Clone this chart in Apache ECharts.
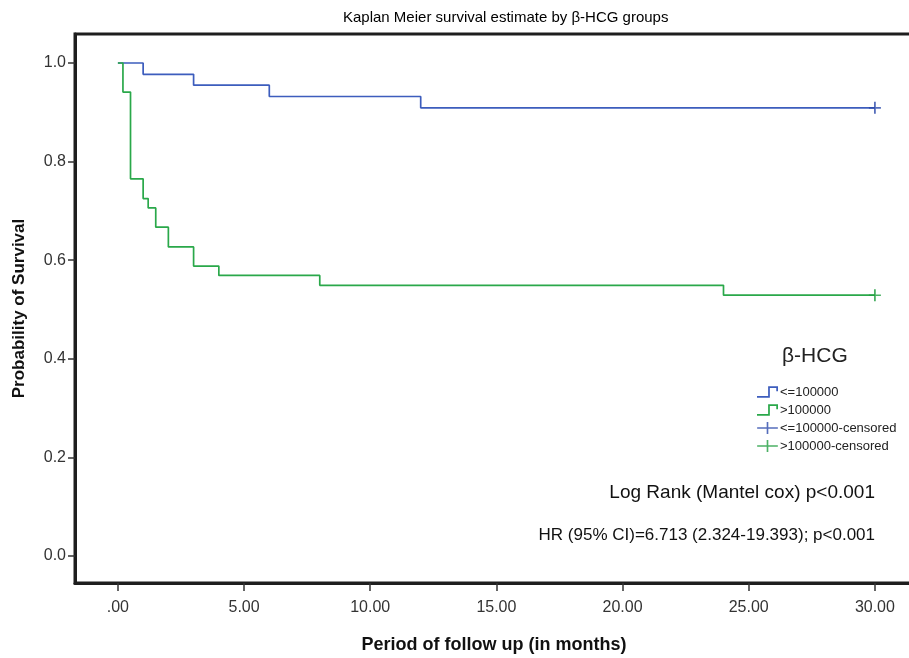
<!DOCTYPE html>
<html>
<head>
<meta charset="utf-8">
<script src="https://cdn.jsdelivr.net/npm/echarts@6/dist/echarts.min.js"></script>
<style>html,body{margin:0;padding:0;background:#fff}#c{width:909px;height:658px}</style>
</head>
<body>
<div id="c"></div>
<script>
// Kaplan-Meier step data: [time (months), survival]
const lowTimes = [0, 1, 3, 6, 12, 30];
const lowSurv = [1.0, 0.977, 0.955, 0.932, 0.909, 0.909];
const highTimes = [0, 0.2, 0.5, 1, 1.2, 1.5, 2, 3, 4, 8, 24, 30];
const highSurv = [1.0, 0.941, 0.765, 0.725, 0.706, 0.667, 0.627, 0.588, 0.569, 0.549, 0.529, 0.529];
const lowCensored = [[30, 0.909]];
const highCensored = [[30, 0.529]];
const xTickValues = [0, 5, 10, 15, 20, 25, 30];
const xTickLabels = ['.00', '5.00', '10.00', '15.00', '20.00', '25.00', '30.00'];
const yTickValues = [0, 0.2, 0.4, 0.6, 0.8, 1.0];
const yTickLabels = ['0.0', '0.2', '0.4', '0.6', '0.8', '1.0'];
const seriesNames = ['<=100000', '>100000', '<=100000-censored', '>100000-censored'];

const BLUE = '#3d5dbd';
const GREEN = '#2aa84a';
const FRAME = '#1e1e1e';
const sans = "'Liberation Sans', Arial, sans-serif";

const zip = (a, b) => a.map((v, i) => [v, b[i]]);
const stepIcon = 'path://M0,10 L9,10 L9,2 L17,2 L17,6 L15.6,6 L15.6,3.4 L10.4,3.4 L10.4,11.4 L0,11.4 Z';
const censIcon = 'path://M0,5 L20,5 L20,6.6 L0,6.6 Z M9.2,0 L10.8,0 L10.8,11.6 L9.2,11.6 Z';
const plusSym = 'path://M0,5.2 L12,5.2 L12,6.8 L0,6.8 Z M5.1,0 L6.9,0 L6.9,12 L5.1,12 Z';

const chart = echarts.init(document.getElementById('c'), null, {renderer: 'canvas'});
chart.setOption({
  animation: false,
  backgroundColor: '#fff',
  title: {
    text: 'Kaplan Meier survival estimate by β-HCG groups',
    left: 343, top: 10, padding: 0,
    textStyle: {fontFamily: sans, fontSize: 15, fontWeight: 'normal', color: '#000'}
  },
  grid: {
    left: 75, right: -4, top: 34, bottom: 75,
    outerBoundsMode: 'none', containLabel: false,
    show: true, borderColor: FRAME, borderWidth: 3, backgroundColor: 'transparent'
  },
  legend: {
    orient: 'vertical',
    left: 757, top: 385, padding: 0,
    itemWidth: 21, itemHeight: 12, itemGap: 4,
    data: [
      {name: seriesNames[0], icon: stepIcon},
      {name: seriesNames[1], icon: stepIcon},
      {name: seriesNames[2], icon: censIcon},
      {name: seriesNames[3], icon: censIcon}
    ],
    textStyle: {fontFamily: sans, fontSize: 13, color: '#222', padding: [0, 0, 0, -3], lineHeight: 14}
  },
  xAxis: {
    type: 'value', min: -1.7, max: 31.51,
    splitLine: {show: false},
    axisLine: {show: true, onZero: false, lineStyle: {color: FRAME, width: 3}},
    axisTick: {show: true, length: 8, customValues: xTickValues, lineStyle: {color: '#333', width: 1.5}},
    axisLabel: {
      customValues: xTickValues, margin: 17,
      formatter: v => xTickLabels[xTickValues.indexOf(v)] ?? '',
      fontFamily: sans, fontSize: 16, color: '#333'
    },
    name: 'Period of follow up (in months)', nameLocation: 'middle', nameGap: 53,
    nameTextStyle: {fontFamily: sans, fontSize: 18, fontWeight: 'bold', color: '#111'}
  },
  yAxis: {
    type: 'value', min: -0.0548, max: 1.0588,
    splitLine: {show: false},
    axisLine: {show: true, onZero: false, lineStyle: {color: FRAME, width: 3}},
    axisTick: {show: true, length: 7, customValues: yTickValues, lineStyle: {color: '#333', width: 1.5}},
    axisLabel: {
      customValues: yTickValues, margin: 9,
      formatter: v => {
        const i = yTickValues.findIndex(t => Math.abs(t - v) < 1e-6);
        return i >= 0 ? yTickLabels[i] : '';
      },
      fontFamily: sans, fontSize: 16, color: '#333'
    },
    name: 'Probability of Survival', nameLocation: 'middle', nameGap: 47,
    nameTextStyle: {fontFamily: sans, fontSize: 17, fontWeight: 'bold', color: '#111'}
  },
  series: [
    {
      name: seriesNames[0], type: 'line', step: 'end', data: zip(lowTimes, lowSurv),
      showSymbol: false, symbol: 'none', color: BLUE, lineStyle: {color: BLUE, width: 1.7}, z: 3
    },
    {
      name: seriesNames[1], type: 'line', step: 'end', data: zip(highTimes, highSurv),
      showSymbol: false, symbol: 'none', color: GREEN, lineStyle: {color: GREEN, width: 1.7}, z: 3
    },
    {
      name: seriesNames[2], type: 'scatter', data: lowCensored, symbol: plusSym, symbolSize: 12,
      color: '#2a48aa', itemStyle: {color: '#2a48aa'}, z: 4
    },
    {
      name: seriesNames[3], type: 'scatter', data: highCensored, symbol: plusSym, symbolSize: 12,
      color: '#1f9e3e', itemStyle: {color: '#1f9e3e'}, z: 4
    }
  ],
  graphic: [
    {type: 'text', left: 782, top: 346, style: {text: 'β-HCG', font: "21px 'Liberation Sans', Arial, sans-serif", fill: '#222'}},
    {type: 'text', right: 909 - 875, top: 483, style: {text: 'Log Rank (Mantel cox) p<0.001', font: "19px 'Liberation Sans', Arial, sans-serif", fill: '#111', textAlign: 'right'}},
    {type: 'text', right: 909 - 875, top: 527, style: {text: 'HR (95% CI)=6.713 (2.324-19.393); p<0.001', font: "17px 'Liberation Sans', Arial, sans-serif", fill: '#111', textAlign: 'right'}}
  ]
});
</script>
</body>
</html>
